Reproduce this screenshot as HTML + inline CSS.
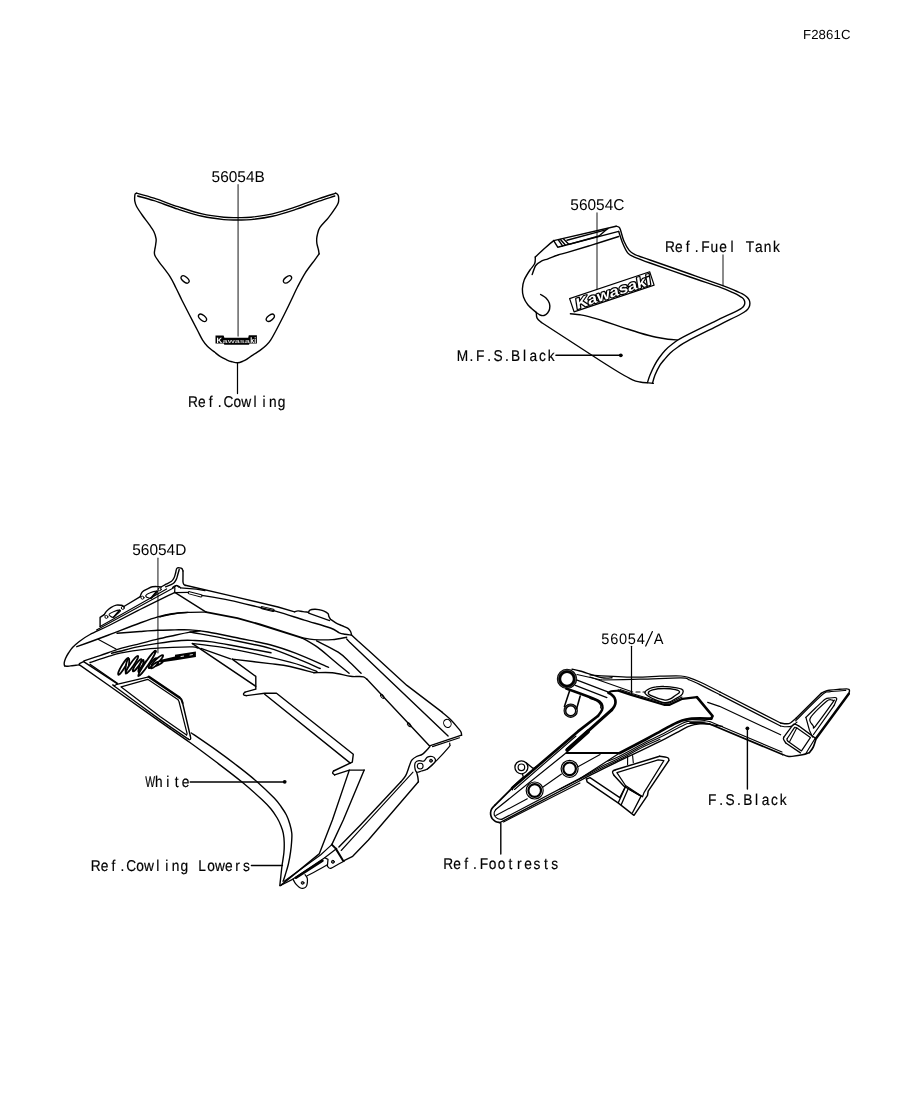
<!DOCTYPE html>
<html><head><meta charset="utf-8"><title>F2861C</title>
<style>
html,body{margin:0;padding:0;background:#fff;}
body{width:914px;height:1103px;overflow:hidden;font-family:"Liberation Sans",sans-serif;}
svg{display:block;position:absolute;left:0;top:0;opacity:0.999;will-change:transform;}
svg path,svg line,svg circle,svg ellipse,svg polygon,svg rect{fill:none;stroke:#000;stroke-linecap:round;stroke-linejoin:round;}
svg text{font-family:"Liberation Sans",sans-serif;fill:#000;stroke:none;text-rendering:geometricPrecision;}
svg text.m{text-anchor:middle;stroke:#000;stroke-width:0.2px;}
svg .k{fill:#000;stroke:none;}
svg text.nj{font-family:"Liberation Serif",serif;font-weight:bold;font-style:italic;fill:#fff;stroke:#000;stroke-width:1.9px;stroke-linejoin:round;}
svg .w{fill:#fff;}
svg ellipse.nje{fill:#fff;stroke:#000;stroke-width:1.75px;}
</style></head><body>
<svg width="914" height="1103" viewBox="0 0 914 1103">
<!-- labels -->
<text class="s" transform="scale(1.0 1)" x="803" y="39" font-size="13.2" letter-spacing="0.1">F2861C</text>
<text class="s" transform="scale(0.99 1)" x="213.7" y="181.6" font-size="15.6" >56054B</text>
<text class="s" transform="scale(0.99 1)" x="576.1" y="210.2" font-size="15.6" >56054C</text>
<text class="s" transform="scale(0.99 1)" x="133.6" y="554.7" font-size="15.6" >56054D</text>
<text class="m" transform="scale(0.96 1)" x="630.5 639.8 649 658.2 667.5 676.7 686" y="643.5" font-size="15.2" style="stroke-width:0">56054 A</text>
<path d="M645.7,646L652.4,631.6" stroke-width="1.232" />
<text class="m" transform="scale(0.88 1)" x="219.3 229.4 239.5 249.6 259.6 269.7 279.8 289.9 300 310 320.1" y="407.4" font-size="15.6" >Ref.Cowling</text>
<text class="m" transform="scale(0.88 1)" x="761.4 771.4 781.5 791.6 801.7 811.8 821.8 831.9 842 852.1 862.2 872.2 882.3" y="251.9" font-size="15.6" >Ref.Fuel Tank</text>
<text class="m" transform="scale(0.88 1)" x="525.6 535.6 545.7 555.8 565.9 576 586 596.1 606.2 616.3 626.4" y="360.6" font-size="15.6" >M.F.S.Black</text>
<text class="m" transform="scale(0.669 1)" x="224.3" y="787" font-size="15.6" >W</text>
<text class="m" transform="scale(0.88 1)" x="170.5 180.5 190.6 200.7 210.8" y="787" font-size="15.6" > hite</text>
<text class="m" transform="scale(0.88 1)" x="108.8 118.8 128.9 139 149.1 159.1 169.2 179.3 189.4 199.5 209.5 219.6 229.7 239.8 249.9 259.9 270 280.1" y="870.7" font-size="15.6" >Ref.Cowling Lowers</text>
<text class="m" transform="scale(0.88 1)" x="509.4 519.5 529.6 539.7 549.8 559.8 569.9 580 590.1 600.1 610.2 620.3 630.4" y="869.4" font-size="15.6" >Ref.Footrests</text>
<text class="m" transform="scale(0.88 1)" x="809.4 819.5 829.6 839.7 849.8 859.8 869.9 880 890.1" y="804.7" font-size="15.6" >F.S.Black</text>
<!-- leaders -->
<path d="M238.1,184.7L238.1,336" stroke-width="1.624" style="stroke:#707070"/>
<path d="M237.5,362.8L237.5,393.6" stroke-width="1.232" stroke-linecap="butt"/>
<path d="M597,213.1L597,293.5" stroke-width="1.624" style="stroke:#707070"/>
<path d="M723,255L723,285.5" stroke-width="1.624" style="stroke:#707070"/>
<path d="M555.9,355.3L620.6,355.3" stroke-width="1.4" />
<circle class="k" cx="620.8" cy="355.3" r="1.9"/>
<path d="M157.9,558.3L157.9,652.7" stroke-width="1.624" style="stroke:#707070"/>
<path d="M190.2,781.9L284.6,781.9" stroke-width="1.456" />
<circle class="k" cx="284.7" cy="781.85" r="1.9"/>
<path d="M251.4,865.5L282.4,865.5" stroke-width="1.4" />
<path d="M631.5,646.3L631.5,693.2" stroke-width="1.232" />
<path d="M500.8,823.4L500.8,854" stroke-width="1.4" />
<path d="M747.4,728.3L747.4,789" stroke-width="1.4" />
<circle class="k" cx="747.4" cy="728.3" r="1.9"/>
<!-- windshield -->
<path d="M136.6,193.2C136.3,193.3 135.4,193.4 135.1,194C134.8,194.6 134.8,195.8 134.7,197C134.6,198.2 134.5,199.4 134.8,201C135.1,202.6 135.3,204.1 136.6,206.5C137.9,208.9 140.4,212.5 142.5,215.5C144.6,218.5 147.4,222 149.3,224.7C151.2,227.4 152.7,229.2 153.8,231.5C154.9,233.8 155.8,236.6 156.1,238.8C156.4,241.1 155.8,243.2 155.6,245C155.4,246.8 155,248.1 154.8,249.5C154.6,250.9 154.3,252 154.4,253.2C154.5,254.4 154.6,255.1 155.4,256.5C156.2,257.9 156.6,258.4 159,261.8C161.4,265.2 167.2,272.2 170,276.6C172.8,281 174,284.1 176,288C178,291.9 179.6,295.5 181.8,300C184.1,304.5 186.9,310 189.5,315C192.1,320 195.1,325.8 197.3,330C199.5,334.2 200.9,337.4 202.6,340.1C204.3,342.8 205.4,344.2 207.4,346.2C209.4,348.2 212.6,350.6 214.8,352.3C217,354.1 218.5,355.4 220.5,356.7C222.5,357.9 224.7,358.9 226.6,359.8C228.5,360.7 230.1,361.3 232,361.8C233.9,362.3 236,362.9 237.8,362.8C239.6,362.7 241.5,361.8 243,361.2C244.5,360.6 244.9,360.4 246.6,359.3C248.3,358.2 250.9,356.3 253.1,354.9C255.3,353.4 257.5,352.2 259.7,350.6C261.9,349 264.5,347.1 266.3,345.3C268.1,343.6 268.9,342.7 270.6,340.1C272.3,337.6 274.1,334.2 276.3,330C278.5,325.8 281.5,320 284,315C286.5,310 289.1,304.7 291.3,300C293.6,295.3 295.2,291.4 297.5,287C299.8,282.6 302.2,277.8 305,273.3C307.8,268.9 312.1,263.5 314.5,260.3C316.9,257.1 318.3,255 319.1,253.9" stroke-width="1.4" />
<path d="M319.1,253.9C319,253.2 318.8,251.2 318.4,249.5C318,247.8 317.2,245.4 316.9,243.7C316.6,241.9 316.6,240.4 316.7,239C316.8,237.6 316.8,236.9 317.3,235C317.8,233.1 317.9,230.6 319.8,227.7C321.7,224.8 325.8,221 328.5,217.6C331.2,214.2 334.2,209.8 335.8,207.4C337.4,205 337.7,204.3 338.2,203C338.7,201.7 338.7,200.7 338.7,199.5C338.7,198.3 338.6,196.9 338.4,196C338.2,195.1 337.9,194.7 337.4,194.2C336.9,193.7 335.6,193.4 335.3,193.2" stroke-width="1.4" />
<path d="M136.6,193.2C139.5,194 147.2,195.9 154.1,198.2C161,200.4 170.1,204.1 178.1,206.7C186.1,209.3 194.6,212.2 202.2,213.9C209.8,215.7 218,216.6 223.9,217.2C229.8,217.8 233,217.6 237.5,217.6C242,217.6 245.2,217.8 251,217.2C256.8,216.6 264.9,215.7 272.5,213.9C280.1,212.2 288.8,209.2 296.5,206.7C304.2,204.1 312.4,200.8 319,198.6C325.6,196.3 333.1,194.1 335.9,193.2" stroke-width="1.4" />
<path d="M137.6,196C140.3,196.8 147.3,198.5 154.1,200.7C160.8,202.9 170.1,206.6 178.1,209.2C186.1,211.8 194.6,214.6 202.2,216.3C209.8,218 218,219 223.9,219.6C229.8,220.2 233,220 237.5,220C242,220 245.2,220.2 251,219.6C256.8,219 264.9,218 272.5,216.3C280.1,214.6 288.8,211.7 296.5,209.2C304.2,206.7 312.6,203.4 319,201.2C325.4,199 332.2,196.9 334.8,196" stroke-width="1.4" />
<ellipse cx="185.1" cy="279.4" rx="4.7" ry="2.6" stroke-width="1.35" transform="rotate(40 185.1 279.4)"/>
<ellipse cx="287.5" cy="279.4" rx="4.7" ry="2.6" stroke-width="1.35" transform="rotate(-38 287.5 279.4)"/>
<ellipse cx="202.5" cy="317.8" rx="4.7" ry="2.6" stroke-width="1.35" transform="rotate(40 202.5 317.8)"/>
<ellipse cx="270.3" cy="317.8" rx="4.7" ry="2.6" stroke-width="1.35" transform="rotate(-38 270.3 317.8)"/>
<path class="k" d="M215.5,335.6L223.6,335.6L224.4,337.7L248.2,337.8L248.8,335.3L256.9,335.3L256.9,343.4L249.5,343.4L249,344.7L224.3,344.7L223.8,343.6L215.5,343.6Z"/>
<text x="216.5" y="342.5" font-size="7.8" font-weight="bold" style="fill:#fff">K</text>
<text x="222.6" y="343.3" font-size="5.6" font-weight="bold" textLength="27.3" lengthAdjust="spacingAndGlyphs" style="fill:#c8c8c8">awasa</text>
<text x="250.3" y="342.5" font-size="7.8" font-weight="bold" textLength="5.8" lengthAdjust="spacingAndGlyphs" style="fill:#fff">ki</text>
<!-- fuel tank -->
<path d="M553.7,240.6C552.2,241.8 548.1,245.3 545,248C541.9,250.7 536.9,255.5 535.3,257" stroke-width="1.4" />
<path d="M535.3,257C535.2,258.1 535.6,261.4 534.7,263.6C533.8,265.8 531.8,267.3 530,270C528.2,272.7 525.5,276.8 524.2,280C522.9,283.2 522.5,286.2 522.4,289C522.3,291.8 522.6,294.3 523.5,297C524.4,299.7 525.9,302.4 528,305C530.1,307.6 534.9,311.2 536.3,312.5" stroke-width="1.4" />
<path d="M536.3,312.5C536.4,313.4 536.2,316.4 537.1,318.1C538,319.8 540.8,321.8 541.5,322.5" stroke-width="1.4" />
<path d="M541.5,322.5C546.2,325.6 560.2,334.7 570,341C579.8,347.3 591.7,355.2 600,360.5C608.3,365.8 614.6,369.8 620,373C625.4,376.2 629.2,378.3 632.5,379.8C635.8,381.3 637.4,381.5 640,382C642.6,382.5 646.1,382.7 648.3,382.9C650.5,383.1 652.5,383.3 653.3,383.4" stroke-width="1.4" />
<path d="M540.6,294.5C541.5,295.1 544.5,296.5 546,298C547.5,299.5 548.8,301.5 549.4,303.3C550,305.1 549.9,307.4 549.6,309C549.3,310.6 548.5,311.9 547.6,313C546.7,314.1 545.3,315.2 544,315.5C542.7,315.8 541.3,315.5 540,315C538.7,314.5 536.9,312.9 536.3,312.5" stroke-width="1.4" />
<path d="M553.7,240.6L616.1,226.2" stroke-width="1.4" />
<path d="M616.1,226.2C616.6,226.4 618.3,226.6 619,227.2C619.7,227.8 619.7,227.7 620.5,230C621.3,232.3 622.5,237.9 624,241.3C625.5,244.7 627.4,248.2 629.2,250.4C631,252.6 631.5,253 635,254.6C638.5,256.2 640.8,256.8 650,260C659.2,263.2 677.9,269.7 690,274C702.1,278.3 715.1,282.8 722.8,285.6C730.5,288.4 732.8,289.6 736,291C739.2,292.4 740.2,292.7 742,293.7C743.8,294.7 745.4,295.7 746.6,296.8C747.8,297.9 748.8,299.1 749.3,300.2C749.8,301.3 749.9,302.3 749.9,303.5C749.9,304.7 749.6,306 749,307.2C748.4,308.4 747.6,309.5 746.3,310.6C745,311.7 745.4,311.7 741,314C736.6,316.3 728.9,320.1 720,324.6C711.1,329.1 694.8,337.1 687.8,340.8C680.8,344.5 680.9,345 678,347C675.1,349 672.6,350.8 670.3,353C668,355.2 665.8,357.9 664,360C662.2,362.1 661.3,362.8 659.8,365.3C658.3,367.8 656.2,372 655,375C653.8,378 652.9,381.9 652.5,383.3" stroke-width="1.4" />
<path d="M618.7,231.4C619.4,233.4 621.2,239.6 622.7,243.2C624.2,246.8 625.9,250.8 627.9,253.1C629.9,255.4 631.3,255.7 635,257.3C638.7,258.9 640.8,259.7 650,263C659.2,266.3 678.2,272.9 690,277C701.8,281.1 713.8,285 721,287.6C728.2,290.2 730.1,291.3 733,292.6C735.9,293.9 737,294.4 738.5,295.3C740,296.2 741.3,297 742.3,297.8C743.3,298.6 743.9,299.5 744.3,300.4C744.7,301.3 744.8,302.1 744.8,303C744.8,303.9 744.5,304.7 744,305.6C743.5,306.5 742.7,307.3 741.5,308.2C740.3,309.1 741.4,308.6 737,310.8C732.6,313 724.1,316.9 715,321.3C705.9,325.7 689.5,333.6 682.5,337.3C675.5,341 675.9,341.3 673,343.5C670.1,345.7 667.3,348 665,350.4C662.7,352.8 660.8,355.5 659,358C657.2,360.5 656,362.5 654.5,365.3C653,368.1 651.2,372.1 650,375C648.8,377.9 647.9,381.2 647.5,382.5" stroke-width="1.4" />
<path d="M553.7,240.6L557.7,247.2L618.7,231.4" stroke-width="1.4" />
<path d="M558.5,240L562.5,245.9" stroke-width="1.4" />
<path d="M560.5,239.5L565.5,245.2" stroke-width="1.4" />
<path d="M563.6,239L568.8,244.3" stroke-width="1.4" />
<path d="M568.8,244.3L599,236L606,230L608,228.6" stroke-width="1.4" />
<path d="M567,240.2L605.6,229.9" stroke-width="1.4" />
<path d="M532.2,274.6C532.8,273.1 534.2,267.7 535.7,265.5C537.2,263.3 539.2,262.3 541.3,261.2C543.3,260.1 545.2,259.8 548,258.8C550.8,257.8 554.8,256.1 558,255C561.2,253.9 562.2,254 567.5,252.4C572.8,250.8 581.5,248.2 590,245.6C598.5,242.9 613.9,238 618.7,236.5" stroke-width="1.4" />
<path d="M570.4,313.8C572,314 576.9,314.3 580,314.8C583.1,315.3 584.6,315.5 588.8,316.6C593,317.7 599.2,319.6 605,321.5C610.8,323.4 618,325.9 623.8,327.8C629.6,329.7 634.6,331.4 640,333C645.4,334.6 651.6,336.3 656.3,337.3C661,338.3 664.5,338.8 668,339.2C671.5,339.6 675.8,339.8 677.3,339.9" stroke-width="1.4" />
<g transform="translate(569.6 298.5) rotate(-18.46)"><rect x="0" y="0" width="84.4" height="14.1" style="fill:#fff;stroke-width:1.2"/><text transform="translate(3.4 12.5) skewX(-10)" font-size="14.8" font-weight="bold" textLength="78.5" lengthAdjust="spacingAndGlyphs" style="fill:#fff;stroke:#000;stroke-width:2.3px;paint-order:stroke;stroke-linejoin:round">Kawasaki</text></g>
<!-- cowling -->
<path d="M174.8,592.3C169,595.2 150.8,604 140,609.5C129.2,615 118.3,620.8 110,625C101.7,629.2 95.1,631.8 90,634.5C84.9,637.2 82.2,639.3 79.3,641.5C76.4,643.7 74.3,645.6 72.5,647.5C70.7,649.4 69.7,651.2 68.5,653C67.3,654.8 66.2,656.8 65.5,658.5C64.8,660.2 64.4,661.8 64.2,663C64,664.2 64.5,665.4 64.6,665.9" stroke-width="1.4" />
<path d="M64.6,665.9C65.2,666 66.8,666.3 68,666.3C69.2,666.3 70.7,665.9 72,665.7C73.3,665.5 74.8,665.3 76,665.2C77.2,665.1 78.8,665 79.3,664.9" stroke-width="1.4" />
<path d="M79.3,664.9L79.4,663.6L84,661.3" stroke-width="1.4" />
<path d="M100.1,626.4L100.1,617.4L104.2,614.7" stroke-width="1.4" />
<path d="M104.2,614.7C104.6,614.2 105.3,612.6 106.4,611.4C107.5,610.2 109.2,608.6 110.8,607.6C112.4,606.6 114.6,605.5 116.3,605.1C118,604.7 119.9,605.1 121.2,605.3C122.5,605.5 123.5,606.3 123.9,606.5" stroke-width="1.4" />
<path d="M123.9,606.5L140.3,596.7" stroke-width="1.4" />
<path d="M140.3,596.7C140.4,596.3 140.5,595.3 140.9,594.5C141.3,593.7 141.5,592.6 142.5,591.7C143.5,590.8 145.3,590 147,589.2C148.7,588.4 150.5,587.2 152.4,586.8C154.3,586.4 157,586.6 158.4,586.6C159.8,586.6 160.7,586.9 161.1,587" stroke-width="1.4" />
<path d="M161.1,587C161.9,586.5 164.3,585.2 166,584.2C167.7,583.2 170.1,582.4 171.5,581.3C172.9,580.2 173.5,578.9 174.2,577.5C174.9,576.1 175.2,574.4 175.6,573C176,571.6 176.1,570.1 176.4,569.3C176.7,568.4 177,568.1 177.5,567.9C178,567.7 178.9,567.8 179.6,567.9C180.3,568 181.3,568.1 181.9,568.6C182.5,569.1 182.8,570.5 183,570.9" stroke-width="1.4" />
<path d="M183,570.9C183,571.8 183,574.1 183,576C183,577.9 182.9,580.6 183,582C183.1,583.4 183.4,583.7 183.8,584.3C184.2,584.9 185,585.2 185.2,585.4" stroke-width="1.4" />
<path d="M179.2,569.5C179,570.3 178.3,572.9 177.8,574.5C177.3,576.1 177.2,577.6 176.4,579.1C175.6,580.6 175,582.2 173.2,583.5C171.4,584.8 166.8,586.2 165.5,586.8" stroke-width="1.4" />
<circle cx="106.4" cy="616.9" r="1.5" stroke-width="1"/>
<circle cx="122.8" cy="607.9" r="1.5" stroke-width="1"/>
<circle cx="142.5" cy="597.7" r="1.5" stroke-width="1"/>
<circle cx="159.7" cy="589.3" r="1.5" stroke-width="1"/>
<path d="M109.1,614.2C109.6,613.4 112.4,612.1 114.1,611.4C115.8,610.7 118.5,610.1 119.5,610.1C120.5,610.1 120.7,610.6 120.3,611.3C119.9,611.9 118.1,613 117,614C115.9,615 114.5,616.8 113.5,617.2C112.5,617.6 111.5,617 110.8,616.5C110.1,616 108.5,615.1 109.1,614.2Z" stroke-width="1.12" />
<path d="M145.8,595.6C146.2,594.8 148.4,593.5 150.2,592.8C152,592 155.5,591.2 156.7,591.1C157.9,591 157.7,591.6 157.3,592.3C156.9,592.9 155.5,594 154.5,595C153.5,596 152.5,597.7 151.3,598.1C150.1,598.5 148.4,598 147.5,597.6C146.6,597.2 145.4,596.4 145.8,595.6Z" stroke-width="1.12" />
<path d="M119.6,610.4L113.8,617" stroke-width="1.68" />
<path d="M156.8,591.4L150.8,598.2" stroke-width="1.68" />
<path d="M100.1,626.4L166.6,588.9" stroke-width="1.12" />
<path d="M96.5,630L174.2,587.4" stroke-width="1.12" />
<path d="M174.2,587.4C174.6,587.1 175.6,585.8 176.4,585.8C177.2,585.8 178.7,587.1 179.2,587.4" stroke-width="1.12" />
<path d="M185.4,585.2L230,595.6L278,607L294.6,611.8" stroke-width="1.4" />
<path d="M172.6,587.5C173,587.2 174.2,586.2 175,585.9C175.8,585.6 176.6,585.4 177.2,585.5C177.8,585.6 178.2,585.9 178.8,586.3C179.4,586.7 180.2,587.5 180.5,587.8" stroke-width="1.232" />
<path d="M180.5,587.8L196.3,589.1L205,590.6" stroke-width="1.232" />
<path d="M174.9,587.8L174.6,592.7L188.4,592.4" stroke-width="1.232" />
<path d="M202,595.4C206.7,596.2 220.3,598.4 230,600.4C239.7,602.4 252,605.6 260,607.5C268,609.4 270.6,609.7 278,611.8C285.4,613.9 295.6,617.4 304.3,620.1C313.1,622.8 324.7,625.9 330.5,628C336.3,630.1 336.9,631.8 339.3,632.8C341.7,633.8 343.1,633.9 345,634.3C346.9,634.7 349.7,634.9 350.6,635" stroke-width="1.4" />
<rect x="0" y="0" width="14.2" height="2.3" rx="1" transform="translate(188.6 591.4) rotate(14.5)" stroke-width="1"/>
<rect x="0" y="0" width="13.4" height="2.2" rx="1" transform="translate(261.4 606.4) rotate(13.5)" stroke-width="1"/>
<path d="M294.6,611.8C295.2,611.6 296.7,610.9 298.1,610.9C299.5,610.9 301.2,611.4 303,611.6C304.8,611.8 307.7,612.2 308.6,612.3" stroke-width="1.4" />
<path d="M308.6,612.3C308.8,611.9 308.9,610.6 309.9,610.1C310.9,609.6 313.3,609.3 314.8,609.2C316.3,609.1 317.6,609.4 319,609.7C320.4,610 322,610.2 323.5,610.9C325,611.5 327,612.7 327.9,613.6C328.8,614.5 328.4,615.2 328.8,616.2C329.2,617.2 330.2,618.8 330.5,619.3" stroke-width="1.4" />
<path d="M308.6,613.1L329.6,620.6" stroke-width="1.12" />
<path d="M330.5,619.3C331.4,619.9 333.9,621.7 335.8,622.8C337.7,623.9 340,624.8 342,625.7C344,626.6 346.6,627.4 348,628.4C349.4,629.4 350,630.4 350.6,631.5C351.2,632.6 351.4,634.4 351.5,635" stroke-width="1.4" />
<path d="M351.5,635L358,641.1L370,651.8L406.9,685.4L442.4,712.4" stroke-width="1.4" />
<path d="M442.4,712.4C443.8,713.7 448.4,717.4 451,720C453.6,722.6 456.4,726.1 458.1,728.1C459.8,730.1 460.4,730.8 461,732C461.6,733.2 461.5,734.7 461.6,735.2" stroke-width="1.4" />
<path d="M461.6,735.2L429.6,745.9" stroke-width="1.4" />
<path d="M459.5,737.8L432.5,746.6" stroke-width="1.12" />
<path d="M346.7,639L350,642.6L448.1,735.9" stroke-width="1.4" />
<ellipse cx="447.4" cy="723.4" rx="3.6" ry="4.2" transform="rotate(-30 447.4 723.4)" stroke-width="1"/>
<path d="M314.2,672.7C317.2,672.7 326.2,672.1 332.2,672.7C338.2,673.3 346,675.7 350.3,676.3C354.6,676.9 355.8,676.4 358,676.5C360.2,676.6 362,676.4 363.5,676.9C365,677.4 366.4,678.9 367,679.3" stroke-width="1.4" />
<path d="M367,679.3L429.6,745.9" stroke-width="1.4" />
<ellipse cx="382.3" cy="696.4" rx="2.4" ry="1.2" transform="rotate(47 382.3 696.4)" stroke-width="1"/>
<ellipse cx="409.2" cy="724.8" rx="2.4" ry="1.2" transform="rotate(47 409.2 724.8)" stroke-width="1"/>
<path d="M174.8,592.3L206.1,612.1" stroke-width="1.4" />
<path d="M206.1,612.1L237.4,618.1L260,624.5L302.1,637.8" stroke-width="1.904" />
<path d="M160,617C161.7,616.6 165.3,615.3 170,614.5C174.7,613.7 182,612.8 188,612.4C194,612 203.1,612.1 206.1,612.1" stroke-width="1.4" />
<path d="M76.8,646.7C82.1,644.8 98.1,639 108.6,635C119.1,631 131.8,626 140,623C148.2,620 152.5,618.4 157.8,616.9C163.1,615.4 167,614.5 172,613.8C177,613 185.3,612.6 188,612.4" stroke-width="1.4" />
<path d="M302.1,637.8C304.1,638.1 309.2,639.3 314.2,639.6C319.2,639.9 326.8,640 332.2,639.6C337.6,639.2 344.3,637.6 346.7,637.2" stroke-width="1.4" />
<path d="M302.1,637.8C304.7,639.4 312.7,643.7 317.8,647.4C322.9,651.1 327.8,655.7 333,660C338.2,664.3 346.4,671.1 349.1,673.3" stroke-width="1.4" />
<path d="M316.6,640.8C320.2,642.7 332.6,648.6 338.2,652.2C343.8,655.8 346.2,659 350,662.5C353.8,666 359.2,671.5 361.1,673.3" stroke-width="1.4" />
<path d="M117,633.2C120.8,632.9 133.2,632 140,631.5C146.8,631 151.8,630.6 157.6,630.3C163.4,630 169.6,630 175,629.9C180.4,629.8 184.5,629.5 190,629.9C195.5,630.2 199.7,630.6 208,632C216.3,633.4 229.7,636.4 240,638.5C250.3,640.6 260.6,642.2 270,644.7C279.4,647.2 286.3,649.6 296.1,653.4C305.9,657.2 323.2,665 328.6,667.3" stroke-width="1.4" />
<path d="M84,660.9C86.7,660 94,657.6 100,655.6C106,653.6 113.3,650.7 120,648.7C126.7,646.7 133.7,645.2 140,643.6C146.3,642 151.8,640.5 157.6,639.1C163.4,637.7 169.6,636.4 175,635.2C180.4,634 185.8,632.8 190,632.1C194.2,631.4 198.3,631.1 200,630.9" stroke-width="1.4" />
<path d="M190,632C196.7,633.3 216.7,636.9 230,639.6C243.3,642.3 259,645.2 270,648.3C281,651.4 287.7,654.8 296.1,658.2C304.5,661.6 316.2,666.8 320.2,668.5" stroke-width="1.4" />
<path d="M111.6,653.3C113,653 115.7,652.4 120,651.3C124.3,650.2 131.2,648.2 137.5,646.9C143.8,645.6 150.3,644.5 157.6,643.4C164.9,642.3 175.1,641 181.3,640.5C187.5,640 189.9,640.3 195,640.5C200.1,640.7 204.5,640.9 211.9,641.9C219.3,642.9 229.3,645 239.2,646.8C249,648.6 265.7,651.8 271,652.8" stroke-width="1.4" />
<path d="M98.5,639.4L116,649.1" stroke-width="1.12" />
<path d="M90,662.5C91.7,662 96.8,660.2 100,659.2C103.2,658.2 106,657.2 109.3,656.2C112.6,655.2 113.8,654.3 120,653.1C126.2,651.9 137.6,650.1 146.3,649.1C155.1,648.1 164.8,647.8 172.5,647.4C180.2,647 188.3,646.8 192.6,646.9C196.8,647 197.1,647.8 198,648" stroke-width="1.4" />
<path d="M192.8,643.9L255.8,686.3L255.8,689.2L245,692.2" stroke-width="1.4" />
<path d="M245,692.2C244.8,692.4 243.8,693.1 243.6,693.6C243.4,694.1 243.5,694.8 244,695.1C244.5,695.4 246.1,695.5 246.5,695.6" stroke-width="1.4" />
<path d="M246.5,695.6L264.7,693.2L276.5,693.2L353.3,754.2L352.3,762.1L333.6,771" stroke-width="1.4" />
<path d="M333.6,771C333.4,771.3 332.4,772.4 332.6,773C332.8,773.6 334.3,774.6 334.6,774.9" stroke-width="1.4" />
<path d="M334.6,774.9L349.3,770.1L364.2,770.1" stroke-width="1.4" />
<path d="M264.7,694.2L350.3,763.1" stroke-width="1.4" />
<path d="M200.9,648.4L230.5,658.8" stroke-width="1.4" />
<path d="M232.2,659.1L255.8,676.4L255.8,686.3" stroke-width="1.4" />
<path d="M232.2,659.1C238.5,659.9 260.4,662.4 270,663.6C279.6,664.8 282.7,665 290,666.5C297.3,668 309.8,671.7 313.8,672.7" stroke-width="1.4" />
<path d="M192.2,643.5C197.3,644.1 212.2,645.7 222.8,647.4C233.4,649.1 244.4,651.4 255.6,653.9C266.8,656.4 281.8,660 290,662.1C298.2,664.2 300.5,665.2 305,666.8C309.5,668.4 315,670.8 317,671.6" stroke-width="1.4" />
<path d="M79.5,664.9L105,682.8L160,721.6L170,728.6" stroke-width="1.4" />
<path d="M84,661.9L117.1,683.6" stroke-width="1.4" />
<path d="M90,664.3L117.4,683.3" stroke-width="1.232" />
<path d="M188.4,739.1C183.7,735.9 172,728.2 160,719.6C148,711 124,693.4 116.5,687.8C109,682.2 114.8,686.4 114.8,685.8C114.8,685.2 116.5,684.5 116.8,684.3" stroke-width="1.344" />
<path d="M116.8,684.3L148.8,676.8" stroke-width="1.344" />
<path d="M148.8,676.8L179.4,697.5" stroke-width="2.576" />
<path d="M179.4,697.5C179.7,697.9 180.9,698.7 181.4,699.6C181.9,700.5 182.4,702.4 182.6,703" stroke-width="2.016" />
<path d="M182.6,703L190.3,735.8" stroke-width="1.456" />
<path d="M190.3,735.8C190.4,736.3 190.8,738 190.7,738.6C190.6,739.2 190.2,739.6 189.8,739.7C189.4,739.8 188.6,739.2 188.4,739.1" stroke-width="1.344" />
<path d="M121.2,686.9L147.7,679.3L177.8,699.4L179,701.5L187.1,733.6L186.6,735" stroke-width="1.232" />
<path d="M186.6,735L160,716.4L121.2,686.9" stroke-width="1.232" />
<path d="M170,728.6C173.3,730.9 182.2,737 189.9,742.5C197.6,748 207.2,755.2 215.9,761.8C224.6,768.4 234.3,775.7 242,782C249.7,788.3 257.1,795.1 261.9,799.6C266.7,804.1 268.4,805.9 271,809C273.6,812.1 275.5,815.2 277.2,818C278.9,820.8 280,823.5 281,826C282,828.5 282.8,830.6 283.3,833.3C283.8,836 284.1,838.8 284.2,842C284.3,845.2 284.3,848.8 283.9,852.8C283.5,856.8 282.7,860.5 282,866C281.3,871.5 280.2,882.3 279.8,885.6" stroke-width="1.4" />
<path d="M191.4,733C195.5,735.8 208.2,744.4 215.9,749.9C223.6,755.4 230.5,760.5 237.4,765.9C244.3,771.2 251.2,776.6 257.3,782C263.4,787.4 270.2,794 274.2,798.1C278.1,802.2 279,803.7 281,806.5C283,809.3 284.9,812.1 286.4,815C287.9,817.9 288.9,821 289.8,824C290.7,827 291.5,830.3 291.8,833.3C292.1,836.3 291.8,838.9 291.6,842C291.4,845.1 291.1,848 290.6,851.7C290.1,855.4 289.3,860.2 288.4,864C287.5,867.8 286.2,871.8 285.3,874.7C284.4,877.6 283.5,880.2 283.1,881.3" stroke-width="1.4" />
<path d="M280.4,885.6L300,869.6L319.2,853.9L332.4,820L349.3,770.1" stroke-width="1.4" />
<path d="M364.2,770.1L343.3,820L331.8,844.6" stroke-width="1.4" />
<path d="M284.2,881.3L320.5,855L331.8,844.6" stroke-width="1.12" />
<path d="M429.8,746.8C428.6,748 424.8,752.5 422.6,754.1C420.4,755.7 418.4,755.5 416.6,756.5C414.8,757.5 413,758.5 411.8,760.1C410.6,761.7 410.3,763.5 409.3,766.1C408.3,768.7 407.1,773.1 405.7,775.7C404.3,778.3 401.7,780.8 400.9,781.8" stroke-width="1.4" />
<path d="M400.9,781.8L360,825.5L338.9,847.1" stroke-width="1.4" />
<path d="M413,772.1L360,829.9L341.2,850.5" stroke-width="1.12" />
<path d="M416.6,772.1C416.8,772.9 417.5,775.4 417.8,777C418.1,778.6 418.3,781 418.4,781.8" stroke-width="1.4" />
<path d="M418.4,781.8L368.4,840L352.7,856.3L343.5,860.8" stroke-width="1.4" />
<path d="M415.4,762.5C416.1,761.4 417.6,760.9 419,760.7C420.4,760.5 422.4,761.7 423.8,761.1C425.2,760.5 426,757.9 427.4,757.1C428.8,756.3 430.9,756.2 432.2,756.5C433.5,756.8 434.8,757.9 435.2,758.9C435.6,759.9 435.9,760.8 434.6,762.5C433.3,764.2 429.6,767.7 427.4,769.1C425.2,770.5 423.3,770.5 421.5,771C419.7,771.5 417.7,772.7 416.6,772.1C415.5,771.5 415,768.9 414.8,767.3C414.6,765.7 414.7,763.6 415.4,762.5Z" stroke-width="1.232" />
<circle cx="420.2" cy="766.1" r="2.9" stroke-width="1.1"/><circle cx="431" cy="760.7" r="1.5" stroke-width="1" style="fill:#555"/>
<path d="M449.7,743.2C449.7,743.5 449.9,744.4 449.8,745C449.7,745.6 451.2,744.3 449.1,746.8C447,749.3 440.6,756.4 437,760.1C433.4,763.8 429,767.6 427.4,769.1" stroke-width="1.232" />
<path d="M331.8,844.6L335.6,848.4L343.3,861" stroke-width="2.016" />
<path d="M336.7,848.4L324.7,857.7L293,879.1L281,885.3" stroke-width="1.232" />
<path d="M324.7,857.7L328,859.4L327.4,866" stroke-width="1.232" />
<path d="M327.4,866C327.6,866.3 328.1,867.4 328.8,867.8C329.5,868.1 329.9,868.6 331.3,868.1C332.7,867.6 334.8,866.2 337,865C339.2,863.8 343.2,861.7 344.4,861" stroke-width="1.232" />
<circle cx="332.9" cy="861.8" r="1.5" stroke-width="1" style="fill:#666"/>
<path d="M322.5,860.6L296,877.8" stroke-width="2.464" />
<path d="M326.9,864.9C325.4,865.8 321.3,868.2 318,870C314.7,871.8 309,874.8 307.2,875.8" stroke-width="1.12" />
<path d="M293,879.1C293.3,879.7 294.3,881.7 295,882.8C295.7,883.9 296.6,884.8 297.4,885.6C298.2,886.4 299.1,887.3 300,887.8C300.9,888.3 301.9,888.5 302.8,888.4C303.7,888.3 304.8,887.9 305.4,887.4C306,886.9 306.4,886.5 306.7,885.6C307,884.7 307.3,883.3 307.4,882C307.5,880.7 307.6,879.2 307.2,878C306.8,876.8 305.4,875.2 305,874.7" stroke-width="1.232" />
<circle cx="302.6" cy="882.9" r="1.4" stroke-width="1" style="fill:#666"/>
<!-- ninja logo -->
<ellipse class="nje" cx="123.3" cy="666.4" rx="9.8" ry="1.75" transform="rotate(-58.8 123.3 666.4)"/>
<ellipse class="nje" cx="127.4" cy="665.4" rx="7.2" ry="1.4" transform="rotate(-80 127.4 665.4)"/>
<ellipse class="nje" cx="131.9" cy="664.7" rx="10.8" ry="1.75" transform="rotate(-55 131.9 664.7)"/>
<ellipse class="nje" cx="137.2" cy="665.2" rx="7.4" ry="1.6" transform="rotate(-54.7 137.2 665.2)"/>
<ellipse class="nje" cx="141.0" cy="666.0" rx="6.6" ry="1.4" transform="rotate(-70 141.0 666.0)"/>
<ellipse class="nje" cx="143.4" cy="666.6" rx="7.4" ry="1.6" transform="rotate(-53.5 143.4 666.6)"/>
<ellipse class="nje" cx="147.0" cy="663.4" rx="15.4" ry="1.8" transform="rotate(-55.8 147.0 663.4)"/>
<ellipse class="nje" cx="152.6" cy="663.2" rx="6.2" ry="1.5" transform="rotate(-52 152.6 663.2)"/>
<ellipse class="nje" cx="157.4" cy="660.6" rx="7.8" ry="1.8" transform="rotate(-43.8 157.4 660.6)"/>
<ellipse class="nje" cx="158.6" cy="663.2" rx="5.0" ry="1.4" transform="rotate(-28 158.6 663.2)"/>
<ellipse class="nje" cx="154.6" cy="665.2" rx="4.6" ry="1.3" transform="rotate(-40 154.6 665.2)"/>
<circle class="k" cx="155.2" cy="651.6" r="1.5"/>
<path class="k" d="M160,660L175,656.4L175,654.8L195.9,651.6L195.9,656.9L176,660.2L160.5,662.6Z"/>
<path d="M181,656.5L183.6,656.1M190,655L192.4,654.6" style="stroke:#fff" stroke-width="0.9"/>
<!-- footrest -->
<circle cx="567.0" cy="678.9" r="8.0" stroke-width="4.4"/><circle cx="567.0" cy="678.9" r="8.9" stroke-width="0.45" style="stroke:#999"/>
<circle cx="570.7" cy="710.7" r="5.75" stroke-width="2.9"/><circle cx="570.7" cy="710.7" r="5.9" stroke-width="0.4" style="stroke:#aaa"/>
<path d="M569.7,690.5L564.4,706.4" stroke-width="1.568" />
<path d="M580.2,696L576.7,708.5" stroke-width="1.568" />
<path d="M572,669.2C573.3,669.5 575.1,669.6 580,671C584.9,672.4 596,676.5 601.3,677.6C606.6,678.7 610.2,677.8 612,677.8" stroke-width="1.4" />
<path d="M590,675C597.1,675.4 621,676.9 632.7,677.1C644.4,677.3 652,676.4 660,676.2C668,676 676.1,675.7 681,676C685.9,676.3 686.4,676.8 689.6,677.8C692.8,678.8 694.9,679.6 700,682C705.1,684.4 716.7,690.3 720,692" stroke-width="1.232" />
<path d="M601.4,680C607.8,679.9 626.7,679.6 640,679.2C653.3,678.9 672.7,677.8 681,677.9C689.3,678 686.4,678.9 689.6,680C692.8,681.1 694.9,682.1 700,684.6C705.1,687.1 716.7,693.2 720,694.9" stroke-width="1.232" />
<path d="M720,692L780.6,723" stroke-width="1.4" />
<path d="M720,694.9L780.6,726" stroke-width="1.232" />
<path d="M780.6,723C781.5,723.1 784.4,723.8 786,723.8C787.6,723.8 788.7,724 790.4,723C792.1,722 795.3,718.9 796.3,718.1" stroke-width="1.4" />
<path d="M780.6,726C781.5,726.1 784.1,726.8 786,726.8C787.9,726.8 790.2,726.8 792,726C793.8,725.2 796.2,722.7 797,722" stroke-width="1.12" />
<path d="M796.3,718.1L821.2,693.3" stroke-width="1.4" />
<path d="M821.2,693.3C821.8,693 823.7,691.8 825,691.3C826.3,690.8 826.9,690.6 829.1,690.3C831.3,690 835,689.6 838,689.4C841,689.2 845,688.9 846.8,688.9C848.6,688.9 848.3,689.1 848.8,689.4C849.2,689.7 849.5,690.1 849.5,690.8C849.5,691.5 848.9,693.3 848.8,693.8" stroke-width="1.4" />
<path d="M795.6,720.9C800,716.5 816.6,699.6 822.2,694.8C827.8,690 825.2,692.6 829.1,691.9C833,691.2 843,690.6 845.8,690.4" stroke-width="1.12" />
<path d="M848.8,693.8L816.3,738.1" stroke-width="2.464" />
<path d="M816.3,738.1C815.8,739.6 814.4,744.6 813.3,747C812.1,749.4 810,751.7 809.4,752.6" stroke-width="1.68" />
<path d="M809.4,752.6C808.2,753 805.4,754.2 802.5,754.8C799.6,755.4 794.5,756.1 792,756.4C789.5,756.6 789.3,756.6 787.7,756.3C786.1,756 783.5,754.8 782.6,754.5" stroke-width="1.4" />
<path d="M782.6,754.5L709.7,724" stroke-width="1.792" />
<path d="M709.7,724C708.1,723.8 703.3,722.8 700,722.6C696.7,722.4 691.7,722.8 690,722.8" stroke-width="1.568" />
<path d="M709.7,721.6L782,752" stroke-width="1.12" />
<path d="M709.7,721.6C708.1,721.3 703.3,720.2 700,719.8C696.7,719.4 691.7,719.5 690,719.4" stroke-width="1.12" />
<path d="M707.7,702.3L719.5,706.3L780.6,734.8" stroke-width="1.232" />
<path d="M710,724.5L722.5,726.4" stroke-width="1.12" />
<path d="M577,674.5L601.4,680" stroke-width="1.12" />
<path d="M577.1,680.1L607.8,691.9" stroke-width="1.232" />
<path d="M575.4,685.4L606.9,697.6" stroke-width="1.232" />
<path d="M590,677L632.7,692" stroke-width="1.12" />
<path d="M636,692L640,692" stroke-width="1.12" />
<path d="M643,692L645.5,692" stroke-width="1.12" />
<path d="M608.5,692.8C609,692.5 609.6,691.7 611.3,691.3C612.9,690.9 617.2,690.7 618.4,690.6" stroke-width="2.016" />
<path d="M618.4,690.6L631.2,694.9L664,704.8L669.6,704.8L682.4,698.8L696.9,697.2" stroke-width="2.24" />
<path d="M696.9,697.2L712.6,716L711.2,718.7" stroke-width="2.688" />
<path d="M620,689.6L632,693.6L664.3,703.2L669,703.2L682,697" stroke-width="1.008" />
<path d="M608.5,692.8C609,693.1 610.7,693.9 611.7,694.8C612.7,695.7 614,696.8 614.6,698C615.2,699.2 615.5,701 615.5,702.3C615.5,703.6 615.1,704.7 614.5,706C613.9,707.3 612.2,709.2 611.7,709.9" stroke-width="2.688" />
<path d="M611.7,709.9L567.3,749.7" stroke-width="3.136" />
<path d="M588,731.5L567.3,750" stroke-width="4.032" />
<path d="M711.2,718.7C709.3,718.7 703.5,718.4 700,718.4C696.5,718.4 693,718.4 690,718.8C687,719.2 685.4,719.5 682.2,720.6C679,721.7 674.7,723.8 671,725.6C667.3,727.4 664.2,729.3 660,731.6C655.8,733.9 652.8,735.6 646,739.2C639.2,742.8 623.8,750.9 619.3,753.2" stroke-width="2.688" />
<path d="M705,721C702.5,721 693.7,721 690,721.3C686.3,721.6 688,720.7 683,723C678,725.3 666.2,732.1 660,735.3C653.8,738.5 652.7,738.6 646,742.1C639.3,745.6 626.4,752.8 620,756C613.6,759.2 609.9,760.3 607.9,761.2" stroke-width="1.12" />
<path d="M566.3,688.6C568.6,689.4 575.3,691.8 580,693.5C584.7,695.2 591,697.5 594.3,698.8C597.5,700.1 598.2,700.4 599.5,701.5C600.8,702.6 601.9,704.1 602.3,705.5C602.7,706.9 602.7,708.2 602,710C601.3,711.8 598.6,715 597.9,716" stroke-width="2.464" />
<path d="M597.9,716L578,731.4L512.2,788" stroke-width="2.688" />
<path d="M512.2,788L495.3,804.9" stroke-width="1.792" />
<path d="M576,736L514.5,789.5" stroke-width="1.12" />
<path d="M590,698.4C591.2,698.9 595.4,700.2 597.1,701.3C598.9,702.4 599.9,703.9 600.5,705C601.1,706.1 600.6,707.5 600.6,708" stroke-width="1.12" />
<path d="M644.8,692.8C644.8,691.4 647.8,689.5 649.7,688.5C651.6,687.5 653.6,687.2 656,686.9C658.4,686.5 660.5,686.2 664,686.4C667.5,686.5 673.9,687.3 676.8,687.8C679.7,688.3 680.5,688.6 681.6,689.2C682.7,689.8 683.3,690.4 683.2,691.5C683.1,692.6 682.4,694.4 681,695.6C679.6,696.9 676.9,697.9 675,699C673.1,700.1 671.4,701.4 669.6,702C667.8,702.6 666.3,703 664,702.7C661.7,702.4 658.4,701 656,700C653.6,699 651.6,698.2 649.7,697C647.8,695.8 644.8,694.2 644.8,692.8Z" stroke-width="1.344" />
<path d="M648.3,692.8C648.5,691.8 650,690.6 652.6,689.9C655.2,689.2 660.2,688.5 664,688.5C667.8,688.5 672.7,689 675.3,689.6C677.9,690.2 679.6,691 679.6,692C679.6,693 676.7,694.5 675,695.7C673.3,696.9 671.4,698.5 669.6,699.2C667.8,699.9 667.1,700.5 664,699.9C660.9,699.3 653.8,696.8 651.2,695.6C648.6,694.4 648.1,693.8 648.3,692.8Z" stroke-width="1.344" />
<path d="M495.3,804.9C494.7,805.5 492.6,807.5 491.8,808.8C491,810.1 490.7,811.3 490.6,812.5C490.5,813.7 490.7,815 491,816C491.3,817 491.6,817.8 492.3,818.7C493.1,819.6 494.2,820.8 495.5,821.4C496.8,822 499.2,822.4 499.9,822.6" stroke-width="1.68" />
<path d="M499.9,822.6C513,815.8 561.8,790.2 578.5,781.5C595.2,772.8 590.7,774.9 600,770.3C609.3,765.7 624.1,758.7 634.1,753.9C644.1,749.1 652.4,745.2 660,741.4C667.6,737.5 675,733.4 680,730.8C685,728.2 686.7,726.9 690,725.8C693.3,724.6 696.7,724.2 700,723.9C703.3,723.6 708.1,724 709.7,724" stroke-width="1.4" />
<path d="M705,723C702.5,723.1 693.5,723.2 690,723.5C686.5,723.8 689,722.7 684,725C679,727.3 666.3,734.2 660,737.3C653.7,740.4 652.7,740.3 646,743.7C639.3,747.1 627.7,753.9 620,757.8C612.3,761.7 606.7,763.8 600,767.2C593.3,770.6 583.3,776.5 580,778.4" stroke-width="1.12" />
<path d="M501.7,819.4L582.4,777.1L619.3,753.2" stroke-width="1.232" />
<path d="M503.5,822L580,783" stroke-width="1.12" />
<path d="M660,739.3C657.7,740.3 652.7,742.2 646,745.5C639.3,748.8 627.7,755.4 620,759.3C612.3,763.2 610,763.8 600,768.8C590,773.8 566.7,785.6 560,789" stroke-width="1.12" />
<path d="M495.8,809.6C495.5,810.1 494.4,811.4 494.2,812.5C494,813.6 494.2,815 494.8,816C495.4,817 496.4,818 497.5,818.6C498.6,819.2 501,819.3 501.7,819.4" stroke-width="1.12" />
<path d="M495.8,809.6L566.6,752.5" stroke-width="1.232" />
<path d="M566.6,753.1L619.8,753.1" stroke-width="2.016" />
<path d="M495.8,815.5L527.3,798.8" stroke-width="1.12" />
<path d="M543,787L561.5,774" stroke-width="1.12" />
<path d="M577.5,767L600.1,754.5" stroke-width="1.12" />
<circle cx="534.7" cy="790.5" r="8.5" stroke-width="1.2"/><circle cx="534.7" cy="790.5" r="6.3" stroke-width="2.2"/>
<circle cx="569.6" cy="768.8" r="8.5" stroke-width="1.2"/><circle cx="569.6" cy="768.8" r="6.3" stroke-width="2.2"/>
<circle cx="521.4" cy="767.3" r="6.5" stroke-width="1.3"/><circle cx="521.4" cy="767.3" r="3.3" stroke-width="1.2"/>
<path d="M526.5,763L533.2,768.6L537.5,766" stroke-width="1.344" />
<path d="M522.5,774L523.3,777.1L512.5,787L512.5,789.8" stroke-width="1.344" />
<path d="M586.4,779.1L587.1,781.9L618.4,803.2L634,815.3L647.5,795.4L648.2,791.2L668.8,760.6" stroke-width="1.456" />
<path d="M668.8,760.6C668.8,760.3 669,759.1 668.6,758.6C668.2,758.1 668.2,757.8 666.7,757.4C665.2,757 660.8,756.5 659.6,756.3" stroke-width="1.456" />
<path d="M659.6,756.3L615.5,769.8" stroke-width="1.456" />
<path d="M615.5,769.8C615.1,770 613.5,770.5 613,771C612.5,771.5 612.5,772.1 612.7,772.9C612.9,773.6 613.9,775.1 614.1,775.5" stroke-width="1.456" />
<path d="M614.1,775.5L624,786.2L641.1,796.1" stroke-width="1.456" />
<path d="M616.9,772.7L658.2,759.9L663.9,760.6L644,792.6L642.5,796.8L625.5,785.5L616.9,772.7" stroke-width="1.232" />
<path d="M586.4,779.1L590,777.6L619.8,797.6L625.5,786.5" stroke-width="1.344" />
<path d="M625.5,786.5L618.4,802.6" stroke-width="1.344" />
<path d="M628.3,788.5L621.2,804.7" stroke-width="1.344" />
<path d="M629.7,789.7L641.1,796.1L632.6,812.5" stroke-width="1.344" />
<path d="M627.6,756.3L627.6,764.8" stroke-width="1.12" />
<path d="M632.6,755.6L633.3,762.7" stroke-width="1.12" />
<path d="M805.9,717.4C807.5,715.8 812.3,711 815.5,708C818.7,705 822.7,700.9 825.1,699.2C827.5,697.5 828.4,698.3 830,698C831.6,697.7 833.9,697.5 835,697.5C836.1,697.5 836.4,697.9 836.6,698.3C836.9,698.7 836.9,698.6 836.5,699.8C836.1,701 834.4,704.6 834,705.6" stroke-width="1.232" />
<path d="M834,705.6L813.5,734.5" stroke-width="1.232" />
<path d="M805.9,717.4L809.4,730.2L812.5,737" stroke-width="1.232" />
<path d="M810.4,717.9C812.7,713.9 822.9,704.2 826.6,701.2C830.3,698.2 831.4,700.2 832.5,700.2C833.6,700.2 833.1,700.7 833.2,701C833.3,701.3 836,698 833,702.2C830,706.4 818.5,722.3 815.3,726.3C812.1,730.3 814,726.6 813.6,726.4C813.2,726.2 813.3,726.7 812.8,725.3C812.3,723.9 808.1,721.9 810.4,717.9Z" stroke-width="1.232" />
<path d="M783.8,737.1C785.3,735.1 790.9,727.4 792.6,725.3C794.3,723.2 793.5,724.6 794,724.4C794.5,724.2 794.8,724.1 795.6,724.3C796.4,724.5 798.1,725.5 798.6,725.8" stroke-width="1.344" />
<path d="M798.6,725.8L815.3,738.1" stroke-width="1.344" />
<path d="M783.8,737.1C783.8,737.4 783.2,738.1 783.5,739.1C783.8,740.1 785.4,742.4 785.8,743" stroke-width="1.344" />
<path d="M785.8,743L800.5,752.9" stroke-width="1.344" />
<path d="M787.2,738.6C788.4,736.9 792.8,730 794.1,728.2C795.5,726.4 794.9,727.7 795.3,727.6C795.7,727.5 796.4,727.8 796.6,727.8" stroke-width="1.232" />
<path d="M796.6,727.8L810.4,737.6L801.5,750.9L788.2,741.5" stroke-width="1.232" />
<path d="M788.2,741.5C788,741.2 787.2,740.5 787,740C786.8,739.5 787.2,738.8 787.2,738.6" stroke-width="1.232" />
<path d="M796.6,728.2L789.7,741.4" stroke-width="1.12" />
<path d="M815.3,738.1L806,753.3" stroke-width="1.12" />
</svg>
</body></html>
